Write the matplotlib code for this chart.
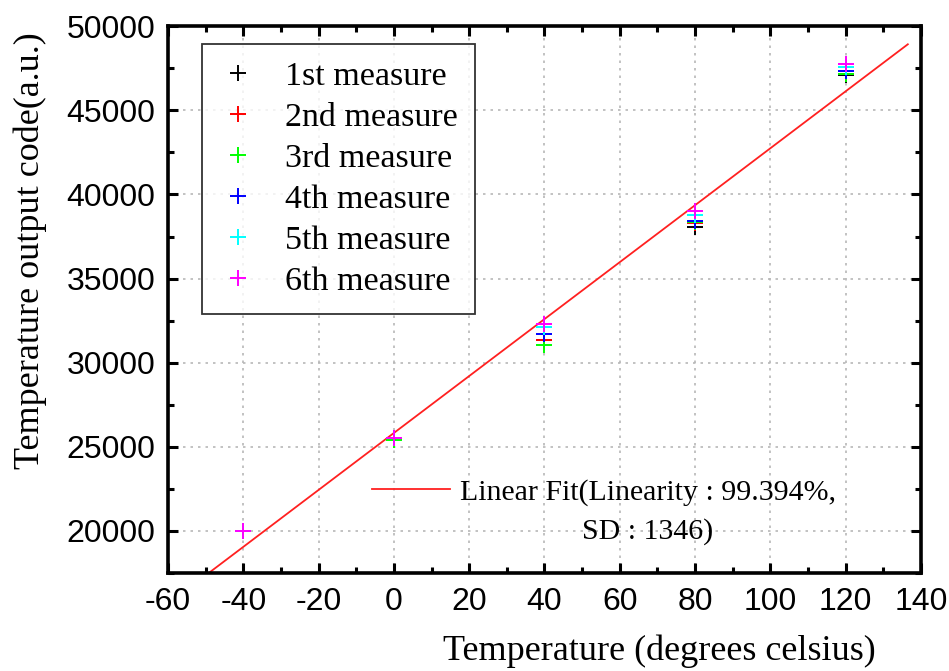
import numpy as np
import matplotlib
matplotlib.use("Agg")
import matplotlib.pyplot as plt
from matplotlib.ticker import MultipleLocator

plt.rcParams["axes.unicode_minus"] = False

# Measured output codes at each temperature set point
temperatures = [-40, 0, 40, 80, 120]
measure_1 = [20000, 25500, 31350, 38075, 47120]
measure_2 = [20000, 25500, 31343, 38300, 47160]
measure_3 = [20000, 25420, 31046, 38336, 47148]
measure_4 = [20000, 25500, 31699, 38431, 47326]
measure_5 = [20000, 25500, 32098, 38770, 47582]
measure_6 = [20000, 25520, 32276, 39026, 47742]

series = [measure_1, measure_2, measure_3, measure_4, measure_5, measure_6]
series_labels = ["1st measure", "2nd measure", "3rd measure",
                 "4th measure", "5th measure", "6th measure"]
series_colors = ["#000000", "#ff0000", "#00ff00", "#0000ff", "#00ffff", "#ff00ff"]

fit_span = [-49, 136.5]
fit_label_line1 = "Linear Fit(Linearity : 99.394%,"
fit_label_line2 = "SD : 1346)"

x_ticks = [-60, -40, -20, 0, 20, 40, 60, 80, 100, 120, 140]
y_ticks = [20000, 25000, 30000, 35000, 40000, 45000, 50000]

serif = ["Liberation Serif", "DejaVu Serif"]
sans = ["Liberation Sans", "DejaVu Sans"]

fig = plt.figure(figsize=(9.49, 6.71), dpi=100)
ax = fig.add_axes([0.177, 0.146, 0.7935, 0.815])

# Dotted grid at major ticks
ax.grid(True, which="major", color="#b8b8b8", linestyle=(0, (1.5, 3)), linewidth=1.2)
ax.set_axisbelow(True)

# Linear fit through all measurements
all_x = np.tile(temperatures, len(series))
all_y = np.concatenate(series)
slope, intercept = np.polyfit(all_x, all_y, 1)
fx = np.array(fit_span, dtype=float)
fit_line, = ax.plot(fx, slope * fx + intercept, color="#ff2020", linewidth=1.3,
                    label=fit_label_line1, zorder=2)

handles = []
for vals, lab, col in zip(series, series_labels, series_colors):
    h, = ax.plot(temperatures, vals, linestyle="none", marker="+", markersize=11,
                 markeredgewidth=1.4, color=col, label=lab, zorder=3)
    handles.append(h)

ax.set_xlim(-60, 140)
ax.set_ylim(17500, 50000)
ax.set_xticks(x_ticks)
ax.set_yticks(y_ticks)
ax.xaxis.set_minor_locator(MultipleLocator(10))
ax.yaxis.set_minor_locator(MultipleLocator(2500))

ax.tick_params(which="both", direction="in", top=True, right=True, width=2.2)
ax.tick_params(which="major", length=7)
ax.tick_params(which="minor", length=4)
ax.tick_params(axis="x", which="major", pad=10)
ax.tick_params(axis="y", which="major", pad=9)
for lbl in ax.get_xticklabels() + ax.get_yticklabels():
    lbl.set_fontfamily(sans)
    lbl.set_fontsize(23)

for sp in ax.spines.values():
    sp.set_linewidth(2.6)

ax.set_xlabel("Temperature (degrees celsius)", fontfamily=serif, fontsize=26)
ax.xaxis.set_label_coords(0.652, -0.112)
ax.set_ylabel("Temperature output code(a.u.)", fontfamily=serif, fontsize=26)
ax.yaxis.set_label_coords(-0.16, 0.59)

leg = ax.legend(handles=handles, loc="upper left", bbox_to_anchor=(0.045, 0.967),
                borderaxespad=0, frameon=True, fancybox=False, edgecolor="black",
                prop={"family": serif, "size": 24.5}, handlelength=1.1,
                handletextpad=0.85, labelspacing=0.30, borderpad=0.5)
leg.get_frame().set_linewidth(1.3)
ax.add_artist(leg)

leg2 = ax.legend(handles=[fit_line], loc="upper left",
                 bbox_to_anchor=(0.271, 0.173), borderaxespad=0, borderpad=0,
                 frameon=False, prop={"family": serif, "size": 21.5},
                 handlelength=2.6, handletextpad=0.34)

# Second line of the fit label, centred under the first line
fig.canvas.draw()
first_bb = leg2.get_texts()[0].get_window_extent()
cx, cy = ax.transAxes.inverted().transform(
    ((first_bb.x0 + first_bb.x1) / 2, (first_bb.y0 + first_bb.y1) / 2 - 39))
ax.text(cx, cy, fit_label_line2, transform=ax.transAxes, ha="center", va="center",
        fontfamily=serif, fontsize=21.5)

fig.savefig("out.png", dpi=100)
